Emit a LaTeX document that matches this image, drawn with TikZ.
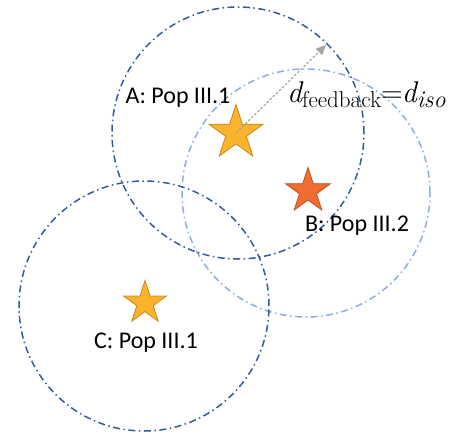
\documentclass[tikz,border=0pt]{standalone}
\usepackage{fontspec}
\newfontfamily\calib{Carlito}
\usetikzlibrary{shapes.geometric,arrows.meta}
\definecolor{darkring}{RGB}{52,90,152}
\definecolor{lightring}{RGB}{142,172,220}
\definecolor{goldfill}{RGB}{251,178,44}
\definecolor{golddraw}{RGB}{200,135,30}
\definecolor{redfill}{RGB}{240,108,48}
\definecolor{reddraw}{RGB}{190,80,30}
\definecolor{arrowgrey}{RGB}{165,165,165}
\begin{document}
\begin{tikzpicture}[x=1pt,y=-1pt,
  ring/.style={line width=1.5pt, dash pattern=on 7pt off 3.5pt on 1.5pt off 3.5pt},
  starshape/.style={star, star points=5, star point ratio=2.618, inner sep=0pt, line width=0.8pt},
  lab/.style={font=\calib\fontsize{24}{28}\selectfont, inner sep=0pt},
  feed/.style={draw=arrowgrey, line width=1.2pt, dash pattern=on 2.5pt off 1.8pt,
    -{Triangle[length=10pt,width=9pt,color=arrowgrey,fill=arrowgrey]}}]
\useasboundingbox (0,0) rectangle (474,434);
% rings
\draw[ring, lightring] (306,193) circle (124pt);
\draw[ring, darkring] (238,133) circle (126pt);
\draw[ring, darkring] (144,306) circle (125pt);
% stars
\node[starshape, minimum size=57pt, draw=golddraw, fill=goldfill] (A) at (236,133) {};
\node[starshape, minimum size=47pt, draw=reddraw, fill=redfill] (B) at (308,191) {};
\node[starshape, minimum size=45pt, draw=golddraw, fill=goldfill] (C) at (145,303) {};
% labels
\node[lab] (LA) at (178,98) {A: Pop III.1};
\node[lab] (LB) at (357,226) {B: Pop III.2};
\node[lab] (LC) at (146,343) {C: Pop III.1};
% feedback arrow
\coordinate (tip) at (326,45);
\draw[feed] (A.center) -- (tip);
\node[anchor=base west, inner sep=0pt, font=\fontsize{30}{36}\selectfont] (F) at (287,102)
  {{\itshape d}\raisebox{-5pt}{\fontsize{23}{27}\selectfont feedback}=\kern-1pt{\itshape d}\raisebox{-5pt}{\fontsize{24}{28}\selectfont\itshape iso}};
\end{tikzpicture}
\end{document}
